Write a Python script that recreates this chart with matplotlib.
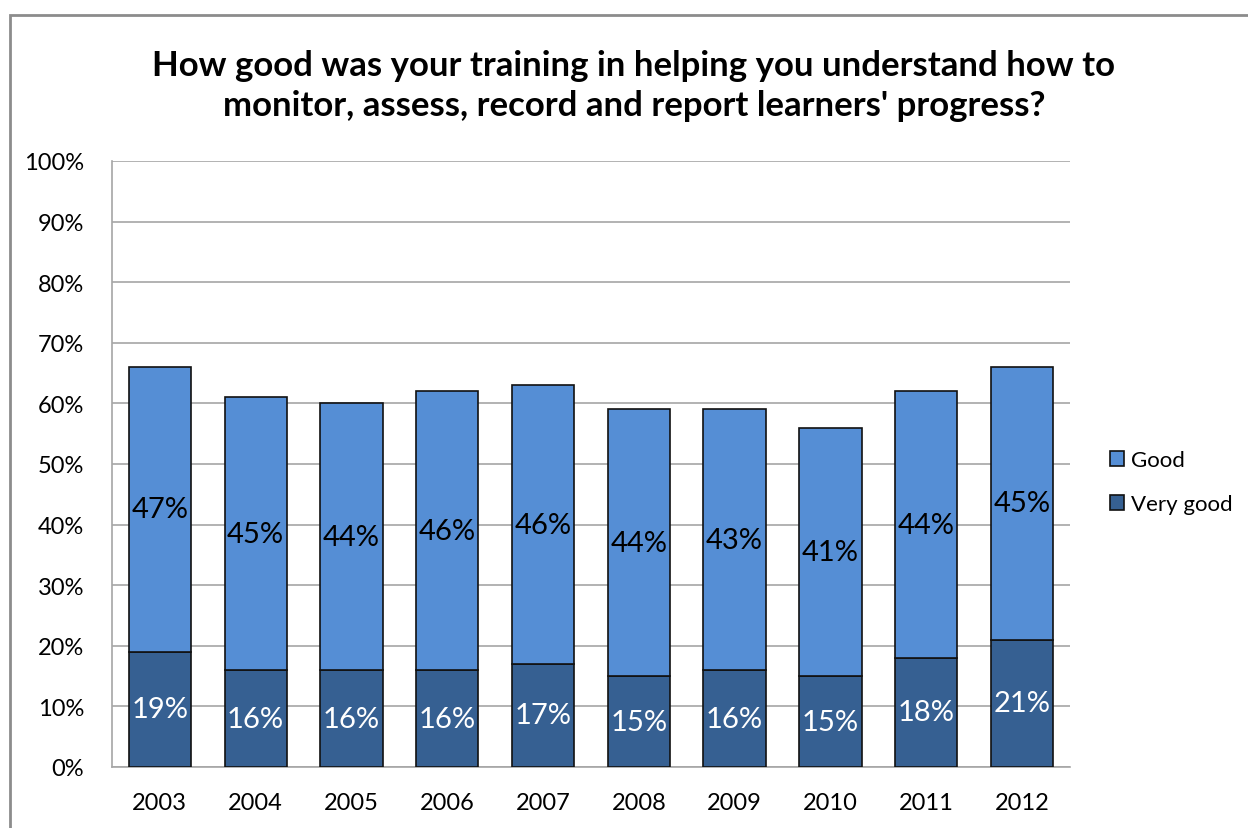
import numpy as np
import matplotlib.pyplot as plt
from matplotlib.patches import Rectangle

# Survey results by year
years = ['2003', '2004', '2005', '2006', '2007', '2008', '2009', '2010', '2011', '2012']
very_good = [19, 16, 16, 16, 17, 15, 16, 15, 18, 21]
good = [47, 45, 44, 46, 46, 44, 43, 41, 44, 45]

plt.rcParams['font.family'] = ['Lato', 'DejaVu Sans']

fig = plt.figure(figsize=(12.48, 8.29), dpi=100)
ax = fig.add_axes([0.0897, 0.0736, 0.7676, 0.731])

x = np.arange(len(years))
w = 0.65
vgBARS = ax.bar(x, very_good, w, color='#366092', edgecolor='#111111', linewidth=1.2,
                label='Very good', zorder=3)
gBARS = ax.bar(x, good, w, bottom=very_good, color='#558ED5', edgecolor='#111111',
               linewidth=1.2, label='Good', zorder=3)

# Labels in the middle of each segment
for xi, v, g in zip(x, very_good, good):
    ax.text(xi, v / 2, f'{v}%', ha='center', va='center', color='white', fontsize=21, zorder=4)
    ax.text(xi, v + g / 2, f'{g}%', ha='center', va='center', color='black', fontsize=21, zorder=4)

ax.set_xlim(-0.5, len(years) - 0.5)
ax.set_ylim(0, 100)
ax.set_yticks(np.arange(0, 101, 10))
ax.set_yticklabels([f'{t}%' for t in range(0, 101, 10)], fontsize=17)
ax.set_xticks(x)
ax.set_xticklabels(years, fontsize=17)
ax.tick_params(axis='x', length=0, pad=18)
ax.tick_params(axis='y', length=0, pad=20)
ax.grid(axis='y', color='#A6A6A6', linewidth=1.2, zorder=0)
for s in ['top', 'right']:
    ax.spines[s].set_visible(False)
for s in ['left', 'bottom']:
    ax.spines[s].set_color('#A6A6A6')
    ax.spines[s].set_linewidth(1.2)

handles = [gBARS, vgBARS]
leg = ax.legend(handles, ['Good', 'Very good'], loc='center left', bbox_to_anchor=(1.021, 0.47),
                frameon=False, fontsize=16, handlelength=0.65, handleheight=0.65,
                handletextpad=0.3, labelspacing=1.1)

fig.text(0.508, 0.896, "How good was your training in helping you understand how to\n"
         "monitor, assess, record and report learners' progress?",
         ha='center', va='center', fontsize=25, fontweight='bold', linespacing=1.3)

# Chart frame
fig.patches.append(Rectangle((10 / 1248, -0.1), 1.2, 1.1 - 16 / 829, transform=fig.transFigure,
                             fill=False, edgecolor='#8C8C8C', linewidth=2))

fig.savefig('out.png', dpi=100)
